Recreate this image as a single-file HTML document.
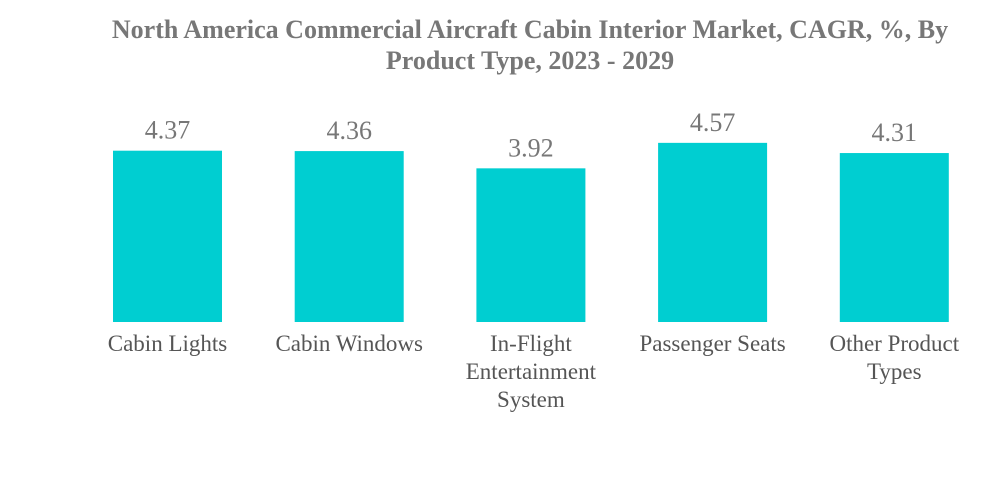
<!DOCTYPE html>
<html>
<head>
<meta charset="utf-8">
<style>
  html, body { margin: 0; padding: 0; background: #fff; }
  body { width: 1000px; height: 483px; overflow: hidden; }
  svg text { font-family: "Liberation Serif", serif; }
</style>
</head>
<body>
<svg id="chart" width="1000" height="483" viewBox="0 0 1000 483" xmlns="http://www.w3.org/2000/svg">
  <g>
    <text x="530" y="38" text-anchor="middle" font-size="26" font-weight="bold" fill="#777">North America Commercial Aircraft Cabin Interior Market, CAGR, %, By</text>
    <text x="530" y="69" text-anchor="middle" font-size="26" font-weight="bold" fill="#777">Product Type, 2023 - 2029</text>
  </g>
  <g id="bars"></g>
  <g id="values"></g>
  <g id="cats"></g>
</svg>
<script>
const categories = [["Cabin Lights"], ["Cabin Windows"], ["In-Flight", "Entertainment", "System"], ["Passenger Seats"], ["Other Product", "Types"]];
const values = [4.37, 4.36, 3.92, 4.57, 4.31];
const valueLabels = ["4.37", "4.36", "3.92", "4.57", "4.31"];

const NS = "http://www.w3.org/2000/svg";
const baseline = 322, pxPerUnit = 39.2;
const firstCenter = 167.5, step = 181.7, barW = 109;
function xCenter(i) { return firstCenter + i * step; }
function yPos(v) { return baseline - v * pxPerUnit; }

const barsG = document.getElementById("bars");
const valsG = document.getElementById("values");
const catsG = document.getElementById("cats");

values.forEach((v, i) => {
  const cx = xCenter(i);
  const r = document.createElementNS(NS, "rect");
  r.setAttribute("x", cx - barW / 2);
  r.setAttribute("y", yPos(v));
  r.setAttribute("width", barW);
  r.setAttribute("height", baseline - yPos(v));
  r.setAttribute("fill", "#00ced1");
  
  
  barsG.appendChild(r);

  const t = document.createElementNS(NS, "text");
  t.setAttribute("x", cx);
  t.setAttribute("y", yPos(v) - 12);
  t.setAttribute("text-anchor", "middle");
  t.setAttribute("font-size", "26");
  t.setAttribute("fill", "#777");
  t.textContent = valueLabels[i];
  
  
  valsG.appendChild(t);

  categories[i].forEach((line, j) => {
    const c = document.createElementNS(NS, "text");
    c.setAttribute("x", cx);
    c.setAttribute("y", 351 + j * 28);
    c.setAttribute("text-anchor", "middle");
    c.setAttribute("font-size", "23");
    c.setAttribute("fill", "#555");
    c.textContent = line;
    
    
    catsG.appendChild(c);
  });
});
</script>
</body>
</html>
